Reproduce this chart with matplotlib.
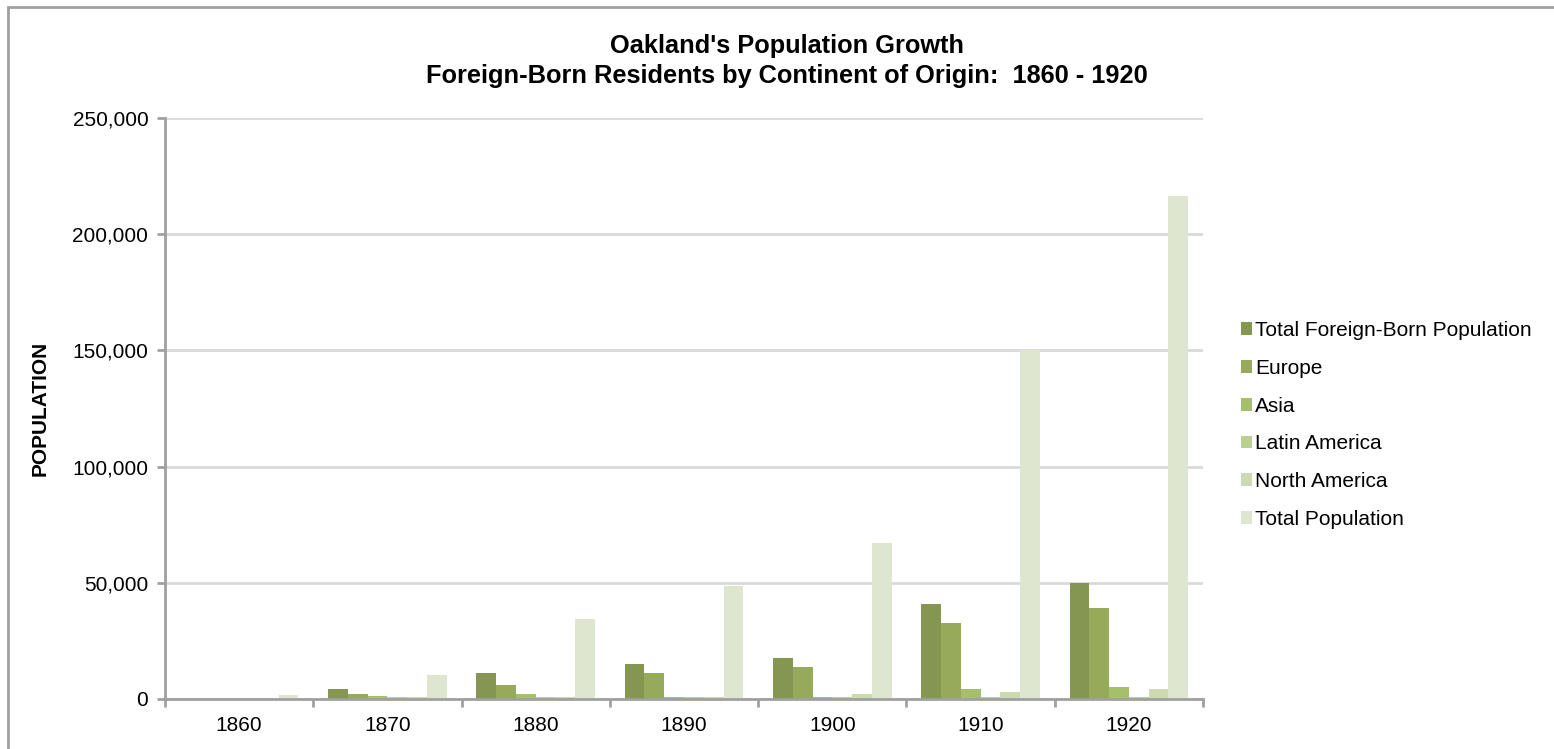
import matplotlib.pyplot as plt
from matplotlib.patches import Patch, Rectangle
from matplotlib.ticker import FuncFormatter

plt.rcParams['font.family'] = ['Liberation Sans', 'DejaVu Sans']

# Daten
jahre = ["1860", "1870", "1880", "1890", "1900", "1910", "1920"]
serien = ["Total Foreign-Born Population", "Europe", "Asia",
          "Latin America", "North America", "Total Population"]
total_foreign = [0, 4200, 11200, 14900, 17500, 40900, 49800]
europe = [0, 2200, 5900, 11200, 13900, 32800, 39000]
asia = [0, 1300, 2300, 1000, 1000, 4200, 5000]
latin_america = [0, 1000, 900, 900, 1000, 900, 1000]
north_america = [0, 1000, 900, 900, 2300, 3100, 4200]
total_population = [1543, 10500, 34555, 48682, 66960, 150174, 216261]
werte = [total_foreign, europe, asia, latin_america, north_america, total_population]
farben = ["#84964f", "#97aa5c", "#a6bf6a", "#bccf90", "#cddab1", "#dfe6cf"]

W, H = 1554, 749
fig = plt.figure(figsize=(W / 100, H / 100), dpi=100)
ax = fig.add_axes([165 / W, 1 - 699 / H, (1203 - 165) / W, (699 - 118) / H])

# Balken: 6 pro Gruppe, Lücke = 1.5 Balkenbreiten
breite = 1 / 7.5
for j, (name, vals, farbe) in enumerate(zip(serien, werte, farben)):
    xs = [i + 0.75 * breite + j * breite for i in range(len(jahre))]
    ax.bar(xs, vals, width=breite, align="edge", color=farbe,
           edgecolor="none", zorder=3, label=name)

ax.set_xlim(0, len(jahre))
ax.set_ylim(0, 250000)
ax.set_yticks(range(0, 250001, 50000))
ax.yaxis.set_major_formatter(FuncFormatter(lambda v, p: f"{int(v):,}"))
ax.grid(axis="y", color="#d9d9d9", linewidth=2, zorder=0)

# x-Ticks an den Gruppengrenzen, Beschriftung in der Mitte
ax.set_xticks(range(len(jahre) + 1))
ax.set_xticklabels([])
ax.set_xticks([i + 0.5 for i in range(len(jahre))], minor=True)
ax.set_xticklabels(jahre, minor=True)
ax.tick_params(axis="x", which="minor", length=0, pad=12, labelsize=15)
ax.tick_params(axis="x", which="major", length=6, width=2, color="#a0a0a0")
ax.tick_params(axis="y", length=6, width=2, color="#a0a0a0", labelsize=15, pad=6)

for s in ["top", "right"]:
    ax.spines[s].set_visible(False)
for s in ["left", "bottom"]:
    ax.spines[s].set_color("#a0a0a0")
    ax.spines[s].set_linewidth(2)
    ax.spines[s].set_zorder(4)

ax.set_ylabel("POPULATION", fontsize=15, fontweight="bold", labelpad=16)

fig.text(787 / W, 1 - 61 / H, "Oakland's Population Growth\nForeign-Born Residents by Continent of Origin:  1860 - 1920",
         ha="center", va="center", fontsize=18.3, fontweight="bold", linespacing=1.35)

# Legende
handles = [Patch(facecolor=f, edgecolor="none") for f in farben]
fig.legend(handles, serien, loc="center left", bbox_to_anchor=(1222 / W, 1 - 425 / H),
           frameon=False, fontsize=15, handlelength=0.55, handleheight=0.55,
           handletextpad=0.15, labelspacing=0.9)

# Rahmen um das Diagramm (rechts und unten abgeschnitten)
fig.patches.append(Rectangle((8 / W, -0.1), 2, 1.1 - 7 / H, transform=fig.transFigure,
                             fill=False, edgecolor="#a0a0a0", linewidth=2))

fig.savefig("out.png", dpi=100)
